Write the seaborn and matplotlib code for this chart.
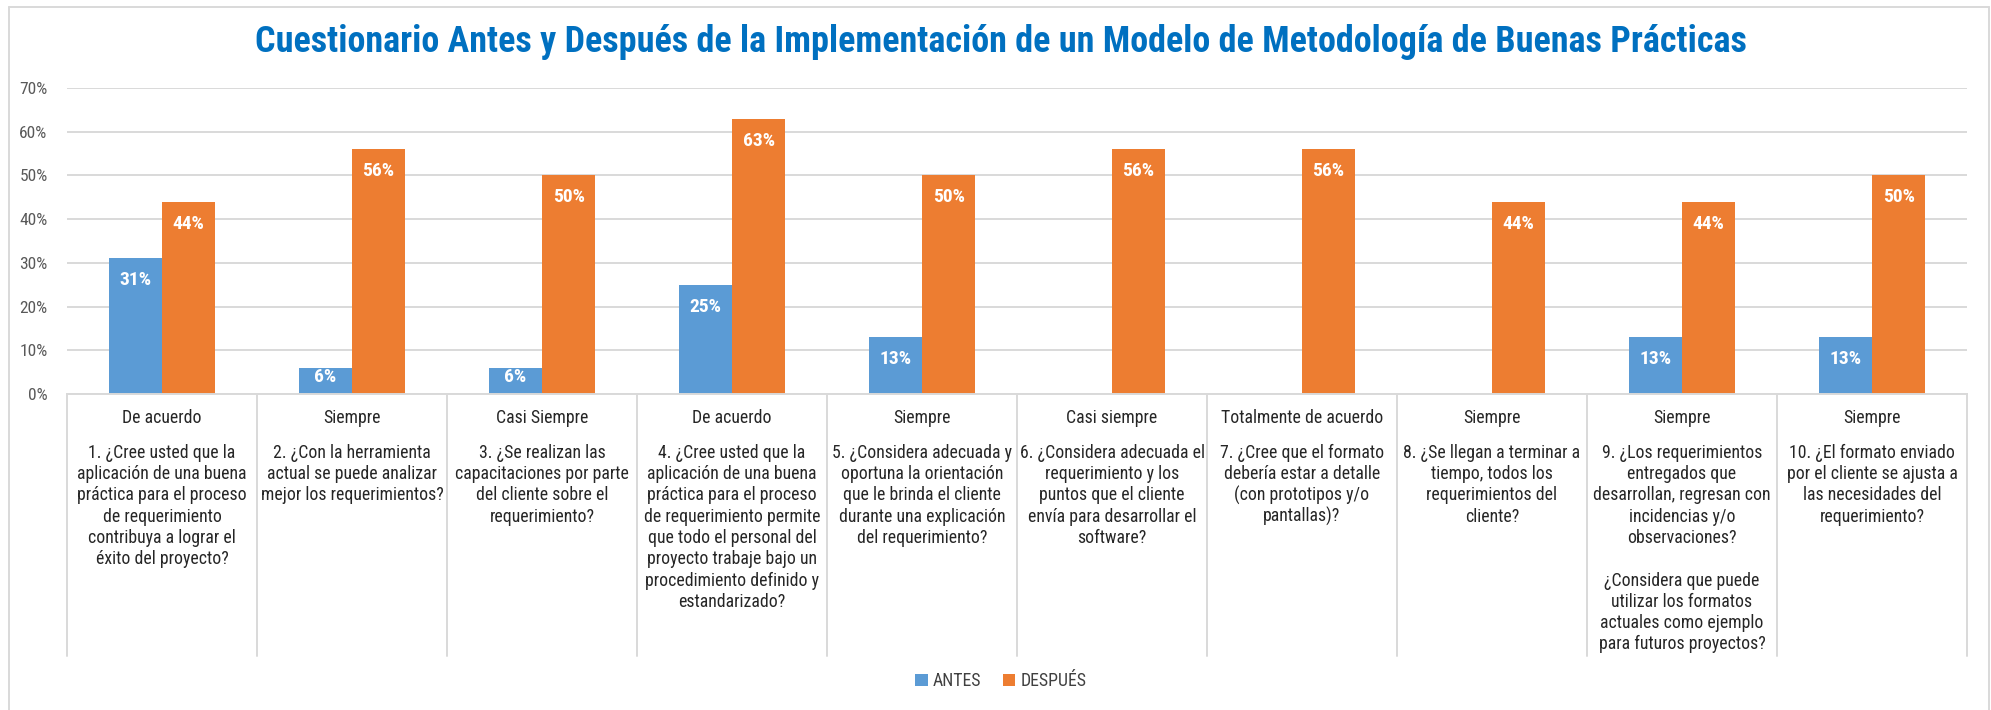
import numpy as np
import pandas as pd
import matplotlib
matplotlib.use("Agg")
import matplotlib.pyplot as plt
import matplotlib.transforms as mtransforms
from matplotlib.lines import Line2D
from matplotlib.patches import Patch
from matplotlib import font_manager
import seaborn as sns

# --- data -------------------------------------------------------------
titulo = "Cuestionario Antes y Después de la Implementación de un Modelo de Metodología de Buenas Prácticas"

series = ["ANTES", "DESPUÉS"]
colores = ["#5B9BD5", "#ED7D31"]

respuestas = [
    "De acuerdo", "Siempre", "Casi Siempre", "De acuerdo", "Siempre",
    "Casi siempre", "Totalmente de acuerdo", "Siempre", "Siempre", "Siempre",
]

preguntas = [
    "1. ¿Cree usted que la\naplicación de una buena\npráctica para el proceso\nde requerimiento\ncontribuya a lograr el\néxito del proyecto?",
    "2. ¿Con la herramienta\nactual se puede analizar\nmejor los requerimientos?",
    "3. ¿Se realizan las\ncapacitaciones por parte\ndel cliente sobre el\nrequerimiento?",
    "4. ¿Cree usted que la\naplicación de una buena\npráctica para el proceso\nde requerimiento permite\nque todo el personal del\nproyecto trabaje bajo un\nprocedimiento definido y\nestandarizado?",
    "5. ¿Considera adecuada y\noportuna la orientación\nque le brinda el cliente\ndurante una explicación\ndel requerimiento?",
    "6. ¿Considera adecuada el\nrequerimiento y los\npuntos que el cliente\nenvía para desarrollar el\nsoftware?",
    "7. ¿Cree que el formato\ndebería estar a detalle\n(con prototipos y/o\npantallas)?",
    "8. ¿Se llegan a terminar a\ntiempo, todos los\nrequerimientos del\ncliente?",
    "9. ¿Los requerimientos\nentregados que\ndesarrollan, regresan con\nincidencias y/o\nobservaciones?\n\n¿Considera que puede\nutilizar los formatos\nactuales como ejemplo\npara futuros proyectos?",
    "10. ¿El formato enviado\npor el cliente se ajusta a\nlas necesidades del\nrequerimiento?",
]

antes = [31, 6, 6, 25, 13, 0, 0, 0, 13, 13]
despues = [44, 56, 50, 63, 50, 56, 56, 44, 44, 50]

y_ticks = [0, 10, 20, 30, 40, 50, 60, 70]

# --- style ------------------------------------------------------------
sns.set_theme(style="white")
disponibles = {f.name for f in font_manager.fontManager.ttflist}
preferidas = ["Roboto Condensed", "Lato", "DejaVu Sans"]
familias = [f for f in preferidas if f in disponibles] or ["DejaVu Sans"]
if "DejaVu Sans" not in familias:
    familias.append("DejaVu Sans")
plt.rcParams["font.family"] = familias

GRIS = "#D9D9D9"
TEXTO = "#262626"
FS = 12.8

W, H = 1991, 710
fig = plt.figure(figsize=(W / 100, H / 100), dpi=100)
fig.patch.set_facecolor("white")

ax_left, ax_right, ax_bottom, ax_top = 67, 1967, 394, 88
ax = fig.add_axes([ax_left / W, 1 - ax_bottom / H,
                   (ax_right - ax_left) / W, (ax_bottom - ax_top) / H])

cats = [str(i + 1) for i in range(len(preguntas))]
df = pd.DataFrame({
    "pregunta": cats * 2,
    "serie": [series[0]] * len(cats) + [series[1]] * len(cats),
    "valor": [v / 100 for v in antes] + [v / 100 for v in despues],
})

sns.barplot(data=df, x="pregunta", y="valor", hue="serie", order=cats,
            hue_order=series, palette=colores, saturation=1, width=0.56,
            dodge=True, ax=ax, legend=False, linewidth=0, errorbar=None)

y_max = 0.70
ax.set_ylim(0, y_max)
ax.set_xlim(-0.5, len(cats) - 0.5)
ax.set_yticks([t / 100 for t in y_ticks])
ax.set_yticklabels([f"{t}%" for t in y_ticks], color="#595959", fontsize=12.5)
ax.tick_params(axis="y", length=0, pad=14)
ax.tick_params(axis="x", length=0, labelbottom=False)
ax.set_xlabel("")
ax.set_ylabel("")
ax.yaxis.grid(True, color=GRIS, linewidth=1.4)
ax.set_axisbelow(True)
for s in ["top", "right", "left"]:
    ax.spines[s].set_visible(False)
ax.spines["bottom"].set_color(GRIS)
ax.spines["bottom"].set_linewidth(1.4)

alto = ax_bottom - ax_top

# value labels inside the top of each bar (kept within short bars)
for cont in ax.containers:
    for bar in cont:
        h = bar.get_height()
        if h <= 0:
            continue
        alto_px = h / y_max * alto
        bajada_px = min(22, alto_px - 17)
        ax.annotate(f"{h * 100:.0f}%", xy=(bar.get_x() + bar.get_width() / 2, h),
                    xytext=(0, -bajada_px * 0.72), textcoords="offset points",
                    ha="center", va="center", color="white",
                    fontsize=14, fontweight="bold")

# category table beneath the axis
trans = mtransforms.blended_transform_factory(ax.transData, ax.transAxes)


def fy(px):
    return (ax_bottom - px) / alto


tabla_fin = 656
for i in range(len(cats) + 1):
    ax.add_line(Line2D([i - 0.5, i - 0.5], [0, fy(tabla_fin)], transform=trans,
                       color=GRIS, linewidth=1.4, clip_on=False))

paso = 21.3
for i, (resp, preg) in enumerate(zip(respuestas, preguntas)):
    ax.text(i, fy(418), resp, transform=trans, ha="center", va="center",
            fontsize=FS, color=TEXTO, clip_on=False)
    for k, linea in enumerate(preg.split("\n")):
        if not linea:
            continue
        ax.text(i, fy(452.7 + k * paso), linea, transform=trans, ha="center",
                va="center", fontsize=FS, color=TEXTO, clip_on=False)

# title
fig.text(1001 / W, 1 - 42 / H, titulo, ha="center", va="center",
         color="#0070C0", fontsize=26, fontweight="bold")

# legend
handles = [Patch(facecolor=c, edgecolor="none") for c in colores]
fig.legend(handles, series, loc="center", bbox_to_anchor=(1001 / W, 1 - 681 / H),
           ncol=2, frameon=False, fontsize=FS, handlelength=0.7,
           handleheight=0.7, handletextpad=0.3, columnspacing=1.2,
           labelcolor="#404040")

# chart area frame
for xs, ys in [([9, 9], [0, 703]), ([9, 1989], [703, 703]), ([1989, 1989], [703, 0])]:
    fig.add_artist(Line2D([x / W for x in xs], [y / H for y in ys],
                          transform=fig.transFigure, color=GRIS, linewidth=1.4))

fig.savefig("out.png", dpi=100, facecolor="white")
